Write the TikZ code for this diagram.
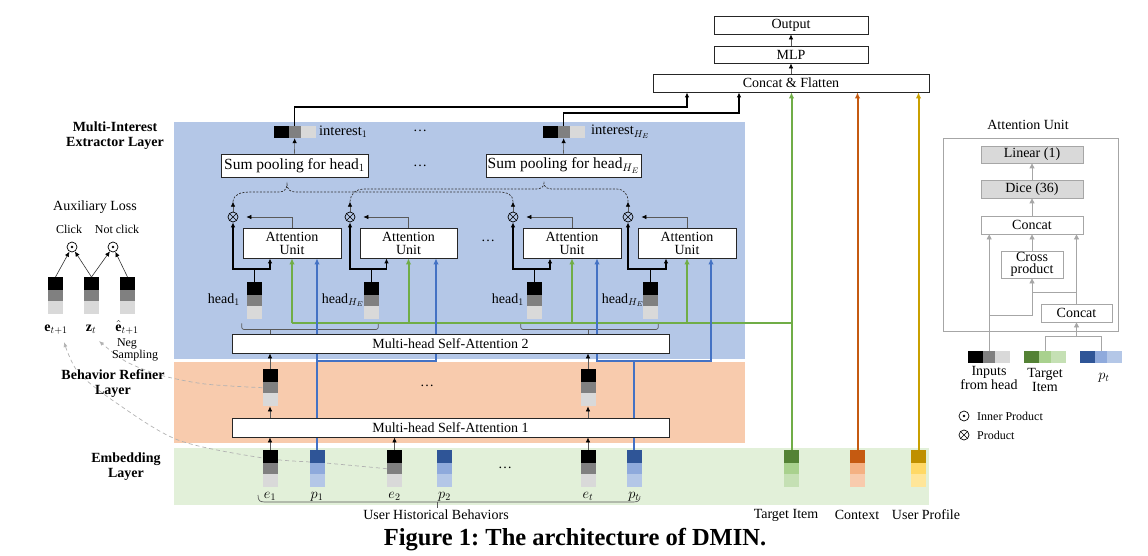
\documentclass[tikz,border=0pt]{standalone}
\usepackage{fontspec}
\setmainfont{Liberation Serif}
\usetikzlibrary{arrows.meta,calc}
\frenchspacing
\definecolor{bgblue}{HTML}{B4C7E7}
\definecolor{bgorange}{HTML}{F8CBAD}
\definecolor{bggreen}{HTML}{E2F0D9}
\definecolor{lnblue}{HTML}{4472C4}
\definecolor{lngreen}{HTML}{70AD47}
\definecolor{lnorange}{HTML}{C55A11}
\definecolor{lngold}{HTML}{C9A000}
\definecolor{pA}{HTML}{2F5597}\definecolor{pB}{HTML}{8FAADC}\definecolor{pC}{HTML}{B4C7E7}
\definecolor{tA}{HTML}{548235}\definecolor{tB}{HTML}{A9D18E}\definecolor{tC}{HTML}{C5E0B4}
\definecolor{cA}{HTML}{C55A11}\definecolor{cB}{HTML}{F4B183}\definecolor{cC}{HTML}{F8CBAD}
\definecolor{uA}{HTML}{BF9000}\definecolor{uB}{HTML}{FFD966}\definecolor{uC}{HTML}{FFE699}
\definecolor{eB}{HTML}{808080}\definecolor{eC}{HTML}{D9D9D9}
\definecolor{augray}{HTML}{A6A6A6}
\pgfdeclarelayer{back}\pgfdeclarelayer{lines}\pgfsetlayers{back,lines,main}
\newcommand\vecV[6]{%
  \fill[#4] (#2-7.5,#3) rectangle (#2+7.5,#3+13);
  \fill[#5] (#2-7.5,#3+13) rectangle (#2+7.5,#3+24);
  \fill[#6] (#2-7.5,#3+24) rectangle (#2+7.5,#3+37);
  \node[inner sep=0,minimum width=15,minimum height=37,anchor=north] (#1) at (#2,#3) {};}
\newcommand\vecH[6]{%
  \fill[#4] (#2,#3-6) rectangle (#2+15,#3+6);
  \fill[#5] (#2+15,#3-6) rectangle (#2+27,#3+6);
  \fill[#6] (#2+27,#3-6) rectangle (#2+42,#3+6);
  \node[inner sep=0,minimum width=42,minimum height=12,anchor=west] (#1) at (#2,#3) {};}
\tikzset{
  dfont/.style={font=\fontsize{14}{13}\selectfont},
  sfont/.style={font=\fontsize{12}{12}\selectfont},
  wbox/.style={draw=black!85, line width=0.8pt, fill=white, inner sep=1pt, dfont},
  lbl/.style={dfont, inner sep=0},
  slbl/.style={sfont, inner sep=0},
  layer/.style={font=\fontsize{14}{15}\selectfont\bfseries, align=center, inner sep=0},
  blk/.style={-{Latex[length=5pt,width=4.5pt,color=black]}},
  col/.style={-{Latex[length=6pt,width=5.5pt]}},
  conn/.style={draw=black!65, line width=0.7pt},
  thickln/.style={draw=black, line width=1.5pt},
  bln/.style={draw=lnblue, line width=1.8pt},
  gln/.style={draw=lngreen, line width=2pt},
  oln/.style={draw=lnorange, line width=2pt},
  yln/.style={draw=lngold, line width=2pt},
  dbr/.style={draw=black!80, line width=0.7pt, dash pattern=on 2pt off 1.5pt},
  auxln/.style={draw=black!30, line width=0.7pt, dash pattern=on 4pt off 3pt,
    -{Latex[length=5pt,width=4pt]}},
  gbox/.style={draw=augray, line width=0.8pt, fill=white, inner sep=1pt, dfont},
  gln2/.style={draw=augray, line width=0.8pt},
  garr/.style={draw=augray, line width=0.8pt, -{Triangle[length=5pt,width=5pt]}},
  otimes/.style={circle, draw=black, line width=0.7pt, minimum size=10, inner sep=0,
    path picture={\draw[line width=0.6pt] (path picture bounding box.north west) -- (path picture bounding box.south east)
      (path picture bounding box.north east) -- (path picture bounding box.south west);}},
  odot/.style={circle, draw=black, line width=0.7pt, minimum size=10, inner sep=0,
    path picture={\fill (path picture bounding box.center) circle (1.3pt);}},
}
\begin{document}
\begin{tikzpicture}[x=1pt,y=-1pt]
\useasboundingbox (0,0) rectangle (1148,556);
% backgrounds
\begin{pgfonlayer}{back}
\fill[bgblue] (174,122) rectangle (745,359);
\fill[bgorange] (174,362) rectangle (745,443);
\fill[bggreen] (174,448) rectangle (929,505);
\end{pgfonlayer}

% top boxes
\node[wbox, minimum width=154, minimum height=18] (out) at (791,25) {Output};
\node[wbox, minimum width=154, minimum height=17] (mlp) at (791,54.5) {MLP};
\node[wbox, minimum width=276, minimum height=18] (cf) at (791,83) {Concat \& Flatten};

% interests
\vecH{int1}{273.5}{132}{black}{eB}{eC}
\vecH{intE}{542.5}{132}{black}{eB}{eC}
\node[lbl, anchor=west, font=\fontsize{14.5}{13}\selectfont] at (319,132) {interest$_1$};
\node[lbl, anchor=west, font=\fontsize{14.5}{13}\selectfont] at (591,132) {interest$_{H_E}$};
\node[lbl] (d1) at (420,131) {\dots};

% sum pooling
\node[wbox, minimum width=147, minimum height=23, font=\fontsize{15.5}{13}\selectfont] (sp1) at (294.5,165.5) {Sum pooling for head$_1$};
\node[wbox, minimum width=155, minimum height=23, font=\fontsize{15.5}{13}\selectfont] (spE) at (563.5,165.5) {Sum pooling for head$_{H_E}$};
\node[lbl] (d2) at (420,166) {\dots};

% otimes
\node[otimes] (ot1) at (233,217) {};
\node[otimes] (ot2) at (350,217) {};
\node[otimes] (ot3) at (513,217) {};
\node[otimes] (ot4) at (628,217) {};

% attention units
\node[wbox, align=center, minimum width=98, minimum height=30] (au1) at (292,243) {Attention\\Unit};
\node[wbox, align=center, minimum width=97, minimum height=30] (au2) at (408.5,243) {Attention\\Unit};
\node[wbox, align=center, minimum width=98, minimum height=30] (au3) at (572,243) {Attention\\Unit};
\node[wbox, align=center, minimum width=98, minimum height=30] (au4) at (687,243) {Attention\\Unit};
\node[lbl] (d3) at (488,241) {\dots};

% heads
\vecV{h11}{254.5}{282}{black}{eB}{eC}
\vecV{h1E}{371.5}{282}{black}{eB}{eC}
\vecV{ht1}{534.5}{282}{black}{eB}{eC}
\vecV{htE}{650.5}{282}{black}{eB}{eC}
\node[lbl, anchor=east] at (240,300) {head$_1$};
\node[lbl, anchor=east] at (364,300) {head$_{H_E}$};
\node[lbl, anchor=east] at (524,300) {head$_1$};
\node[lbl, anchor=east] at (644,300) {head$_{H_E}$};

% MHSA
\node[wbox, minimum width=437, minimum height=19] (mh2) at (450.5,343.5) {Multi-head Self-Attention 2};
\node[wbox, minimum width=437, minimum height=19] (mh1) at (450.5,427.5) {Multi-head Self-Attention 1};

% refined
\vecV{r1}{270}{369}{black}{eB}{eC}
\vecV{rt}{588}{369}{black}{eB}{eC}
\node[lbl] (d4) at (427,386) {\dots};

% embeddings
\vecV{e1}{270}{450}{black}{eB}{eC}
\vecV{p1}{317}{450}{pA}{pB}{pC}
\vecV{e2}{394.5}{450}{black}{eB}{eC}
\vecV{p2}{444.5}{450}{pA}{pB}{pC}
\vecV{et}{588}{450}{black}{eB}{eC}
\vecV{pt}{634}{450}{pA}{pB}{pC}
\vecV{tgt}{791.5}{450}{tA}{tB}{tC}
\vecV{ctx}{857.5}{450}{cA}{cB}{cC}
\vecV{prof}{918.5}{450}{uA}{uB}{uC}
\node[lbl] (d5) at (505,468) {\dots};
\node[lbl, anchor=base] at (270,498) {$e_1$};
\node[lbl, anchor=base] at (317,498) {$p_1$};
\node[lbl, anchor=base] at (394.5,498) {$e_2$};
\node[lbl, anchor=base] at (444.5,498) {$p_2$};
\node[lbl, anchor=base] at (588,498) {$e_t$};
\node[lbl, anchor=base] at (634,498) {$p_t$};
\node[lbl] at (436,515) {User Historical Behaviors};
\node[lbl] at (786,515) {Target Item};
\node[lbl] at (857,515) {Context};
\node[lbl] at (926,515) {User Profile};

% layer labels
\node[layer] at (115,136) {Multi-Interest\\Extractor Layer};
\node[layer] at (113,384) {Behavior Refiner\\Layer};
\node[layer] at (126,467) {Embedding\\Layer};

% auxiliary loss
\node[lbl] at (95,207) {Auxiliary Loss};
\node[slbl] at (69,229) {Click};
\node[slbl] at (117,229) {Not click};
\node[odot] (od1) at (72,247) {};
\node[odot] (od2) at (113,247) {};
\vecV{ea}{55.5}{277}{black}{eB}{eC}
\vecV{za}{91.5}{277}{black}{eB}{eC}
\vecV{ha}{127.5}{277}{black}{eB}{eC}
\node[lbl, anchor=base] (lea) at (56,331) {$\mathbf{e}_{t+1}$};
\node[lbl, anchor=base] (lza) at (91,331) {$\mathbf{z}_{t}$};
\node[lbl, anchor=base] (lha) at (127,331) {$\hat{\mathbf{e}}_{t+1}$};
\node[slbl] at (127,344) {Neg};
\node[slbl] at (135,356) {Sampling};

% attention unit panel
\node[draw=augray, line width=0.8pt, minimum width=175, minimum height=193, inner sep=0] (aupanel) at (1030.5,234.5) {};
\node[lbl] at (1028,125) {Attention Unit};
\node[gbox, fill=eC, minimum width=102, minimum height=17] (lin) at (1032,154.5) {Linear (1)};
\node[gbox, fill=eC, minimum width=102, minimum height=18] (dice) at (1032,189) {Dice (36)};
\node[gbox, minimum width=102, minimum height=18] (cc) at (1032,225) {Concat};
\node[gbox, align=center, minimum width=62, minimum height=27, inner sep=0.5pt, font=\fontsize{14}{12}\selectfont] (cp) at (1032,264.5) {Cross\\product};
\node[gbox, minimum width=71, minimum height=18] (cc2) at (1076.5,313) {Concat};
\vecH{hin}{968}{357}{black}{eB}{eC}
\vecH{tin}{1024}{357}{tA}{tB}{tC}
\vecH{pin}{1080}{357}{pA}{pB}{pC}
\node[lbl, align=center, font=\fontsize{14}{11.5}\selectfont] at (989,378) {Inputs\\from head};
\node[lbl, align=center, font=\fontsize{14}{14}\selectfont] at (1045,380) {Target\\Item};
\node[lbl] at (1104,378) {$p_t$};
\node[odot] (lg1) at (964,416) {};
\node[slbl, anchor=west] at (977,416) {Inner Product};
\node[otimes] (lg2) at (964,435) {};
\node[slbl, anchor=west] at (977,435) {Product};

% caption
\node[font=\fontsize{24.5}{26}\selectfont\bfseries, inner sep=0] at (575,540) {Figure 1: The architecture of DMIN.};

% ---------------- connectors ----------------
\begin{pgfonlayer}{lines}
\draw[conn,blk] (mlp) -- (out);
\draw[conn,blk] (cf) -- (mlp);
\draw[thickln,blk] (int1.north) -- ++(0,-19) -| ([xshift=-104]cf.south);
\draw[thickln,blk] (intE.north) -- ++(0,-13) -| ([xshift=-52]cf.south);
\draw[conn,blk] (sp1) -- (int1);
\draw[conn,blk] (spE) -- (intE);
% AU -> otimes
\draw[conn,blk,shorten >=8pt] (au1.north) |- (ot1.east);
\draw[conn,blk,shorten >=8pt] (au2.north) |- (ot2.east);
\draw[conn,blk,shorten >=8pt] (au3.north) |- (ot3.east);
\draw[conn,blk,shorten >=8pt] (au4.north) |- (ot4.east);
% otimes up
\draw[conn,blk] (ot1.north) -- ++(0,-10) coordinate (bt1);
\draw[conn,blk] (ot2.north) -- ++(0,-10) coordinate (bt2);
\draw[conn,blk] (ot3.north) -- ++(0,-10) coordinate (bt3);
\draw[conn,blk] (ot4.north) -- ++(0,-10) coordinate (bt4);
\draw[dbr] (bt1) .. controls (234,194) and (240,192) .. (252,192) -- (279,192)
  .. controls (284,192) and (287,189) .. (287,184) .. controls (287,189) and (290,192) .. (295,192)
  -- (498,192) .. controls (508,192) and (513,195) .. (bt3);
\draw[dbr] (bt2) .. controls (351,193) and (355,189) .. (366,189) -- (536,189)
  .. controls (541,189) and (544,187) .. (544,183) .. controls (544,187) and (547,189) .. (552,189)
  -- (616,189) .. controls (624,189) and (628,194) .. (bt4);
% heads
\draw[thickln] (h11.north) -- ++(0,-13) coordinate (j1);
\draw[thickln,blk] (j1) -| (ot1.south);
\draw[thickln,blk] (j1) -| ([xshift=-22]au1.south);
\draw[thickln] (h1E.north) -- ++(0,-13) coordinate (j2);
\draw[thickln,blk] (j2) -| (ot2.south);
\draw[thickln,blk] (j2) -| ([xshift=-22]au2.south);
\draw[thickln] (ht1.north) -- ++(0,-13) coordinate (j3);
\draw[thickln,blk] (j3) -| (ot3.south);
\draw[thickln,blk] (j3) -| ([xshift=-22]au3.south);
\draw[thickln] (htE.north) -- ++(0,-13) coordinate (j4);
\draw[thickln,blk] (j4) -| (ot4.south);
\draw[thickln,blk] (j4) -| ([xshift=-21]au4.south);
% brackets under heads
\draw[conn,rounded corners=2pt] (h11.south west) ++(-5,4) -- ++(0,6) -| ([xshift=-1,yshift=-4]h1E.south east);
\draw[conn] (270,329) -- (mh2.north -| 270,0);
\draw[conn,rounded corners=2pt] (ht1.south west) ++(-6,4) -- ++(0,6) -| ([xshift=0,yshift=-4]htE.south east);
\draw[conn] (588,329) -- (mh2.north -| 588,0);
% green
\draw[gln,col] (tgt.north) -- (cf.south -| tgt.north);
\draw[gln] (tgt.north |- 0,323) -- (au1.south |- 0,323);
\draw[gln,col] (au1.south |- 0,323) -- (au1.south);
\draw[gln,col] (au2.south |- 0,323) -- (au2.south);
\draw[gln,col] (au3.south |- 0,323) -- (au3.south);
\draw[gln,col] (au4.south |- 0,323) -- (au4.south);
% blue
\draw[bln,col] (p1.north) -- (p1.north |- au1.south);
\draw[bln,col] (p1.north |- 0,361) -| ([xshift=27.5]au2.south);
\draw[bln] (pt.north) -- (pt.north |- 0,361);
\draw[bln,col] (pt.north |- 0,361) -| ([xshift=25]au3.south);
\draw[bln,col] (pt.north |- 0,361) -| ([xshift=24]au4.south);
% orange, gold
\draw[oln,col] (ctx.north) -- (cf.south -| ctx.north);
\draw[yln,col] (prof.north) -- (cf.south -| prof.north);
% refiner arrows
\draw[conn,blk] (e1.north) -- (mh1.south -| e1.north);
\draw[conn,blk] (e2.north) -- (mh1.south -| e2.north);
\draw[conn,blk] (et.north) -- (mh1.south -| et.north);
\draw[conn,blk] (mh1.north -| r1.south) -- (r1.south);
\draw[conn,blk] (r1.north) -- (mh2.south -| r1.north);
\draw[conn,blk] (mh1.north -| rt.south) -- (rt.south);
\draw[conn,blk] (rt.north) -- (mh2.south -| rt.north);
% behaviors brace
\draw[conn] (258,495) .. controls (258,501) and (260,502) .. (265,502) -- (633,502)
  .. controls (638,502) and (640,501) .. (640,496);
\draw[conn] (437,502) -- (437,508);
% aux loss
\draw[draw=black!80, line width=0.6pt, blk] (ea.north) -- (od1);
\draw[draw=black!80, line width=0.6pt, blk] (za.north) -- (od1);
\draw[draw=black!80, line width=0.6pt, blk] (za.north) -- (od2);
\draw[draw=black!80, line width=0.6pt, blk] (ha.north) -- (od2);
\draw[auxln] plot[smooth] coordinates {(r1.west) (205,384) (160,375) (125,361) (99,341)};
\draw[auxln] plot[smooth] coordinates {(e2.west) (325,463) (263,458) (178,440) (115,402) (78,372) (64,342)};
% attention unit internals
\draw[garr] (dice) -- (lin);
\draw[garr] (cc) -- (dice);
\draw[garr] (cp) -- (cc);
\draw[garr] (hin.north) -- (hin.north |- cc.south);
\draw[garr] (hin.north |- 0,315) -| (cp.south);
\draw[garr] (cc2.north) -- (cc2.north |- cc.south);
\draw[gln2] (cc2.north |- 0,292) -- (cp.south |- 0,292);
\draw[gln2] (tin.north) -- ++(0,-14) -| (pin.north);
\draw[garr] (cc2.south |- 0,337) -- (cc2.south);
\end{pgfonlayer}
\end{tikzpicture}
\end{document}
